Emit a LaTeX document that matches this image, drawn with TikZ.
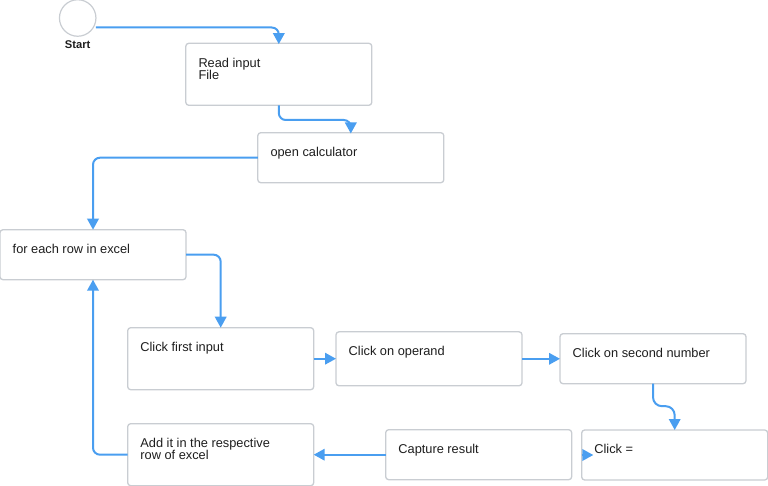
\documentclass[tikz,border=0pt]{standalone}
\usepackage{fontspec}
\setmainfont{Liberation Sans}
\usetikzlibrary{arrows.meta,calc}
\definecolor{bordercol}{RGB}{201,205,210}
\definecolor{linecol}{RGB}{74,158,240}
\definecolor{textcol}{RGB}{30,30,30}
\tikzset{
  box/.style={draw=bordercol, line width=1.3pt, rounded corners=3pt, fill=white,
    minimum width=186pt, inner sep=0pt, outer sep=0pt},
  startnode/.style={circle, draw=bordercol, line width=1.2pt, minimum size=36.5pt, inner sep=0pt, outer sep=0pt},
  lbl/.style={font=\fontsize{12.8}{12}\selectfont, text=textcol, align=left, inner sep=0pt, anchor=north west},
  startlbl/.style={font=\fontsize{11.2}{12}\selectfont\bfseries, text=textcol, inner sep=0pt, anchor=base},
  conn/.style={draw=linecol, line width=2pt, rounded corners=7pt, -{Triangle[length=11pt,width=11.5pt]}},
}
\begin{document}
\begin{tikzpicture}[x=1pt,y=-1pt]
\useasboundingbox (0,0) rectangle (768,486);
% nodes
\node[startnode] (start) at (77.7,18) {};
\node[startlbl] (startl) at ([yshift=-31pt]start.center) {Start};
\node[box, minimum height=62pt] (read) at (278.8,74.3) {};
\node[box, minimum height=50pt] (open) at (350.8,157.7) {};
\node[box, minimum height=50pt] (each) at (93,254.7) {};
\node[box, minimum height=62pt] (first) at (220.7,358.7) {};
\node[box, minimum height=54pt] (oper) at (429,358.8) {};
\node[box, minimum height=50pt] (second) at (653,358.7) {};
\node[box, minimum height=50pt] (eq) at (674.7,455) {};
\node[box, minimum height=50pt] (capt) at (478.7,454.7) {};
\node[box, minimum height=62pt] (add) at (220.7,454.7) {};
% texts
\node[lbl] (readt) at ([xshift=12.5pt,yshift=-14.6pt]read.north west) {Read input\\File};
\node[lbl] (opent) at ([xshift=12.5pt,yshift=-14.3pt]open.north west) {open calculator};
\node[lbl] (eacht) at ([xshift=12.5pt,yshift=-14.3pt]each.north west) {for each row in excel};
\node[lbl] (firstt) at ([xshift=12.5pt,yshift=-14.3pt]first.north west) {Click first input};
\node[lbl] (opert) at ([xshift=12.5pt,yshift=-14.3pt]oper.north west) {Click on operand};
\node[lbl] (secondt) at ([xshift=12.5pt,yshift=-14.3pt]second.north west) {Click on second number};
\node[lbl] (eqt) at ([xshift=12.5pt,yshift=-14.3pt]eq.north west) {Click =};
\node[lbl] (captt) at ([xshift=12.5pt,yshift=-14.3pt]capt.north west) {Capture result};
\node[lbl] (addt) at ([xshift=12.5pt,yshift=-14.6pt]add.north west) {Add it in the respective\\row of excel};
% connectors
\draw[conn] ([yshift=-9.5pt]start.east) -| ([yshift=-0.8pt]read.north);
\draw[conn] (read.south) -- ++(0,14.7) -| ([yshift=-0.8pt]open.north);
\draw[conn] (open.west) -| (each.north);
\draw[conn] (each.east) -| (first.north);
\draw[conn] (first.east) -- (first.east -| oper.west);
\draw[conn] (oper.east) -- (oper.east -| second.west);
\draw[conn, rounded corners=9pt] (second.south) -- ++(0,22.5) -| (eq.north);
\draw[conn] (capt.west) -- (capt.west -| add.east);
\draw[conn] (add.west) -| (each.south);
\draw[conn] (eq.west) -- ++(11.6,0);
\end{tikzpicture}
\end{document}
